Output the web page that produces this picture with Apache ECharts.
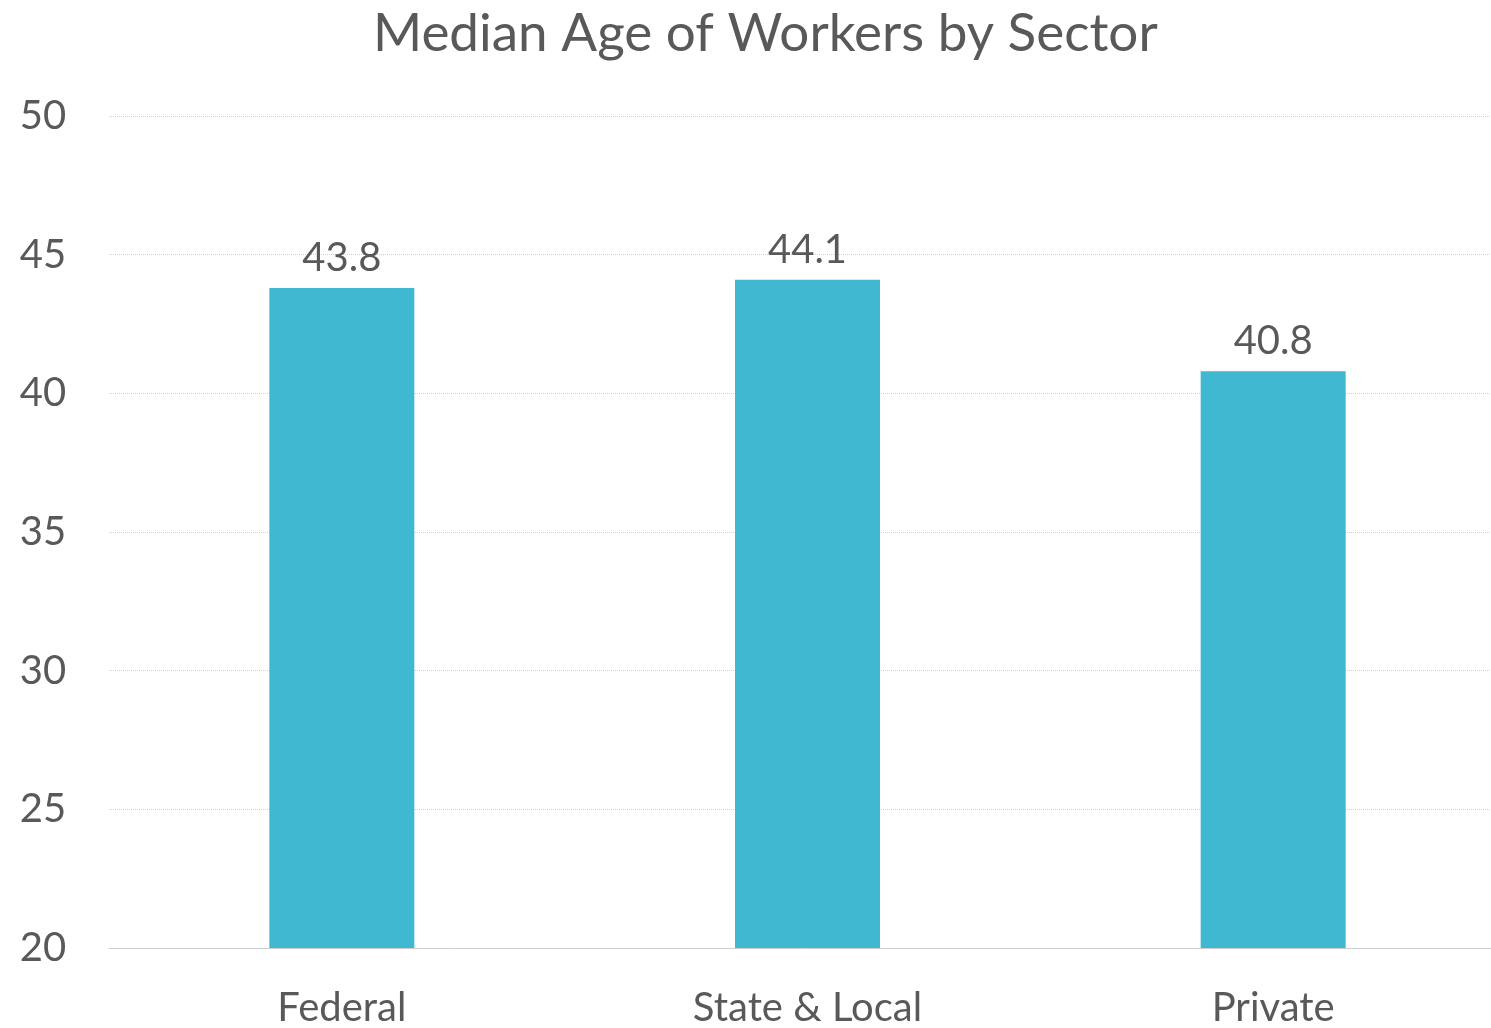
<!DOCTYPE html>
<html>
<head>
<meta charset="utf-8">
<script src="https://cdn.jsdelivr.net/npm/echarts@6/dist/echarts.min.js"></script>
<style>
  html, body { margin: 0; padding: 0; background: #fff; }
  #chart { width: 1491px; height: 1028px; }
</style>
</head>
<body>
<div id="chart"></div>
<script>
// data
var sectors = ['Federal', 'State & Local', 'Private'];
var medianAge = [43.8, 44.1, 40.8];
var yTicks = { min: 20, max: 50, step: 5 };

var textColor = '#595959';
var fontName = 'Lato, "Open Sans", sans-serif';

var myChart = echarts.init(document.getElementById('chart'));
var option = {
    animation: false,
    title: {
        text: 'Median Age of Workers by Sector',
        left: 368,
        top: 2,
        textStyle: { color: textColor, fontSize: 53, fontWeight: 'normal', fontFamily: fontName }
    },
    // plot runs a little past the right edge, as in the original
    grid: { left: 109, width: 1397, top: 116, height: 832, containLabel: false, outerBoundsMode: 'none' },
    xAxis: {
        type: 'category',
        data: sectors,
        axisLine: { show: true, lineStyle: { color: '#d0d0d0', width: 1 } },
        axisTick: { show: false },
        axisLabel: { color: textColor, fontSize: 40, fontFamily: fontName, margin: 40 }
    },
    yAxis: {
        type: 'value',
        min: yTicks.min,
        max: yTicks.max,
        interval: yTicks.step,
        axisLine: { show: false },
        axisTick: { show: false },
        axisLabel: { color: textColor, fontSize: 40, fontFamily: fontName, margin: 66, align: 'center' },
        splitLine: { lineStyle: { color: '#d0d0d0', width: 1, type: 'dotted' } }
    },
    series: [{
        type: 'bar',
        data: medianAge,
        barWidth: 145,
        itemStyle: { color: '#41B8D2' },
        label: {
            show: true,
            position: 'top',
            distance: 10,
            color: textColor,
            fontSize: 40,
            fontFamily: fontName
        }
    }]
};
myChart.setOption(option, true);
</script>
</body>
</html>
